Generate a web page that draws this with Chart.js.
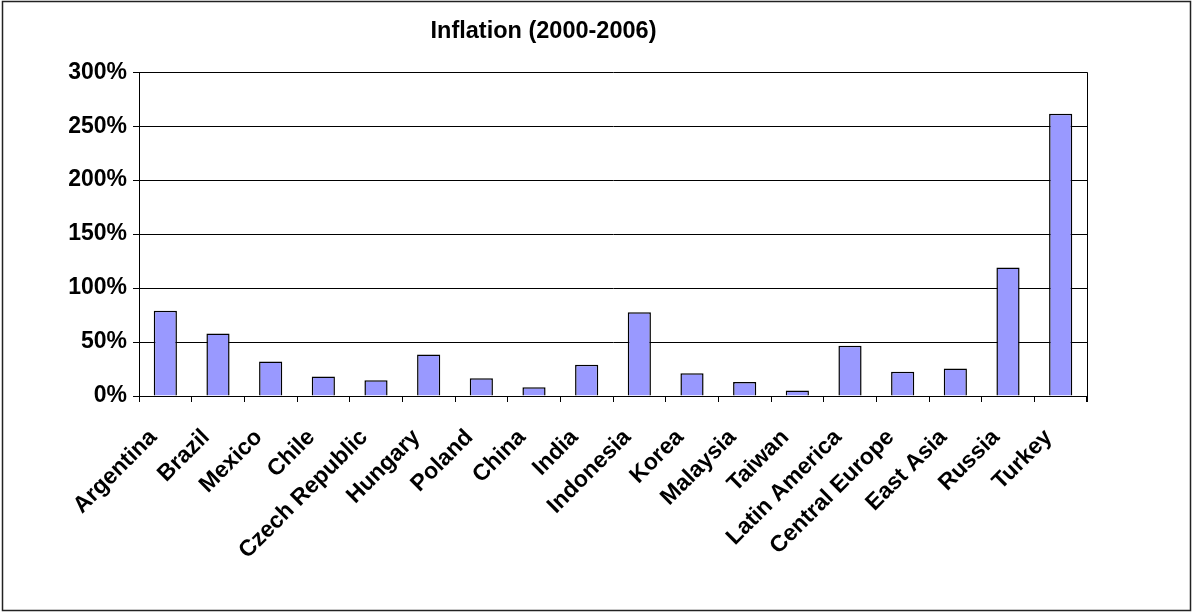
<!DOCTYPE html>
<html>
<head>
<meta charset="utf-8">
<script src="https://cdn.jsdelivr.net/npm/chart.js@4"></script>
<style>
  html, body { margin: 0; padding: 0; background: #fff; }
  #wrap { width: 1192px; height: 613px; }
</style>
</head>
<body>
<div id="wrap"><canvas id="chart" width="1192" height="613"></canvas></div>
<script>
const categories = ["Argentina", "Brazil", "Mexico", "Chile", "Czech Republic", "Hungary",
  "Poland", "China", "India", "Indonesia", "Korea", "Malaysia", "Taiwan",
  "Latin America", "Central Europe", "East Asia", "Russia", "Turkey"];
const inflation = [79, 58, 32, 18, 14.5, 38.5, 16.5, 8, 29, 77.5, 21, 13, 5, 46.5, 22.5, 25.5, 119, 261.5];
const yTicks = [0, 50, 100, 150, 200, 250, 300];

const font = "'Liberation Sans', Arial, sans-serif";

// outer frame and right edge of the plot area
const frame = {
  id: "frame",
  beforeDraw(chart) {
    const ctx = chart.ctx;
    ctx.save();
    ctx.fillStyle = "#fff";
    ctx.fillRect(0, 0, chart.width, chart.height);
    ctx.strokeStyle = "#222";
    ctx.lineWidth = 1.5;
    ctx.strokeRect(2.5, 1.5, chart.width - 4, chart.height - 4);
    ctx.restore();
  },
  afterDatasetsDraw(chart) {
    const a = chart.chartArea;
    const ctx = chart.ctx;
    ctx.save();
    ctx.strokeStyle = "#000";
    ctx.lineWidth = 1;
    ctx.beginPath();
    ctx.moveTo(a.right + 0.5, a.top);
    ctx.lineTo(a.right + 0.5, a.bottom + 6);
    ctx.stroke();
    ctx.restore();
  }
};

new Chart(document.getElementById("chart"), {
  type: "bar",
  data: {
    labels: categories,
    datasets: [{
      label: "Inflation",
      data: inflation,
      backgroundColor: "#9999FF",
      borderColor: "#000",
      borderWidth: 1.5,
      categoryPercentage: 1,
      barPercentage: 0.44
    }]
  },
  options: {
    responsive: false,
    animation: false,
    layout: { padding: { left: 0, right: 105, top: 0, bottom: 0 } },
    plugins: {
      legend: { display: false },
      tooltip: { enabled: false },
      title: {
        display: true,
        text: "Inflation (2000-2006)",
        color: "#000",
        font: { family: font, size: 23.5, weight: "bold" },
        padding: { top: 17, bottom: 27 }
      }
    },
    scales: {
      x: {
        offset: true,
        grid: { offset: true, drawOnChartArea: false, drawTicks: true, tickLength: 6, color: "#000" },
        border: { color: "#000", width: 1 },
        ticks: {
          color: "#000",
          font: { family: font, size: 23, weight: "bold" },
          minRotation: 45,
          maxRotation: 45,
          autoSkip: false,
          padding: 22,
          labelOffset: -12
        },
        afterFit(scale) { scale.height = 217; }
      },
      y: {
        min: 0,
        max: 300,
        afterBuildTicks(scale) { scale.ticks = yTicks.map(v => ({ value: v })); },
        grid: { color: "#000", lineWidth: 1, tickLength: 6 },
        border: { color: "#000", width: 1 },
        ticks: {
          color: "#000",
          font: { family: font, size: 23, weight: "bold" },
          padding: 6,
          callback: v => v + "%"
        },
        afterFit(scale) { scale.width = 139; }
      }
    }
  },
  plugins: [frame]
});
</script>
</body>
</html>
